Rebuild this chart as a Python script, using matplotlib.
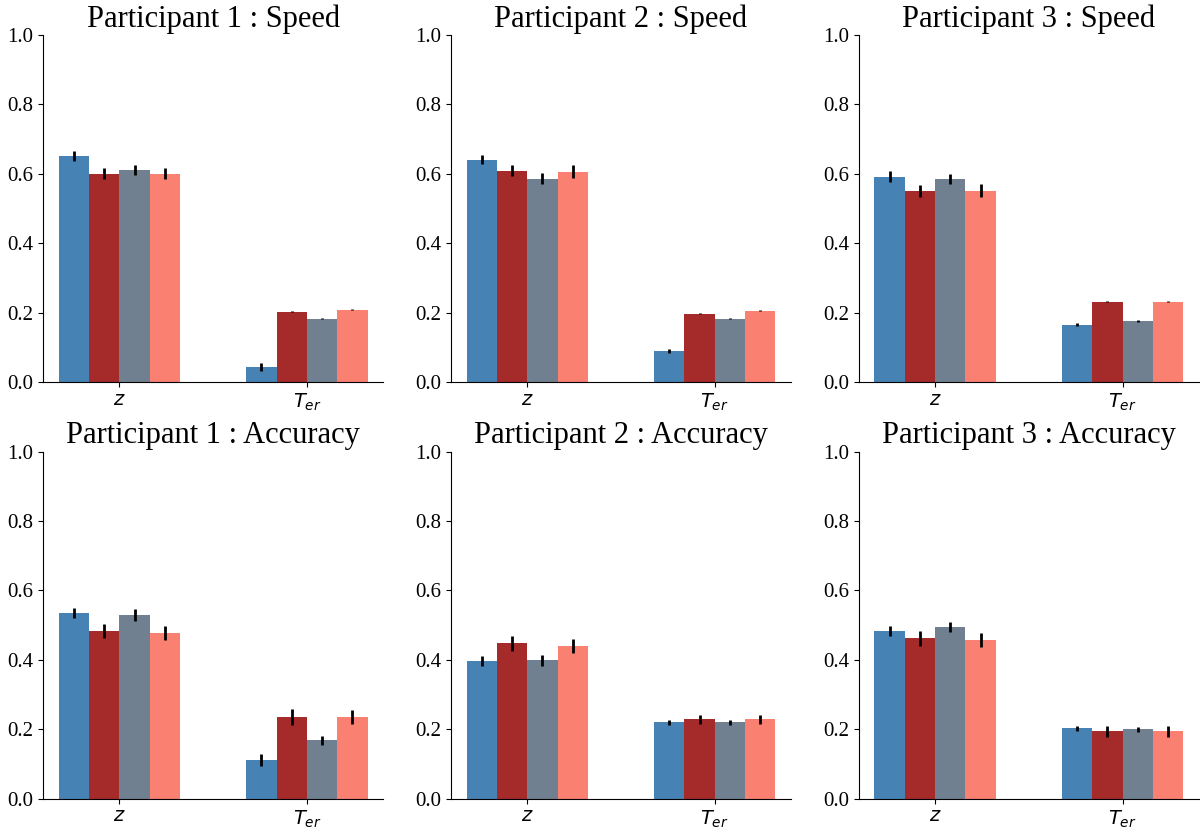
import matplotlib
matplotlib.use("Agg")
import matplotlib.pyplot as plt
import numpy as np

plt.rcParams['font.family'] = ['Liberation Serif', 'DejaVu Serif']
plt.rcParams['mathtext.fontset'] = 'dejavusans'

params = [r'$z$', r'$T_{er}$']
colors = ['steelblue', 'brown', 'slategray', 'salmon']
titles = ['Participant 1 : Speed', 'Participant 2 : Speed', 'Participant 3 : Speed',
          'Participant 1 : Accuracy', 'Participant 2 : Accuracy', 'Participant 3 : Accuracy']

# means[panel][series] = [z, T_er]
means = [
    [[0.652, 0.044], [0.600, 0.203], [0.612, 0.183], [0.600, 0.209]],
    [[0.641, 0.090], [0.609, 0.197], [0.586, 0.183], [0.606, 0.206]],
    [[0.592, 0.165], [0.551, 0.232], [0.586, 0.177], [0.551, 0.232]],
    [[0.535, 0.111], [0.483, 0.235], [0.529, 0.168], [0.477, 0.235]],
    [[0.396, 0.220], [0.448, 0.229], [0.399, 0.220], [0.439, 0.229]],
    [[0.483, 0.203], [0.462, 0.194], [0.494, 0.200], [0.457, 0.194]],
]
errors = [
    [[0.014, 0.012], [0.016, 0.002], [0.014, 0.002], [0.016, 0.002]],
    [[0.014, 0.006], [0.016, 0.002], [0.015, 0.002], [0.018, 0.002]],
    [[0.015, 0.004], [0.018, 0.002], [0.014, 0.003], [0.019, 0.002]],
    [[0.015, 0.018], [0.021, 0.022], [0.017, 0.013], [0.021, 0.021]],
    [[0.015, 0.008], [0.022, 0.013], [0.016, 0.008], [0.020, 0.013]],
    [[0.014, 0.007], [0.021, 0.015], [0.015, 0.007], [0.020, 0.015]],
]

width = 0.162
x = np.arange(len(params))

fig, axes = plt.subplots(2, 3, figsize=(12, 8.32), dpi=100)
for k, ax in enumerate(axes.ravel()):
    for i in range(4):
        ax.bar(x + (i - 1.5) * width, means[k][i], width, yerr=errors[k][i],
               color=colors[i], ecolor='black', error_kw=dict(elinewidth=2, capsize=0))
    ax.set_ylim(0, 1.0)
    ax.set_xticks(x)
    ax.set_xticklabels(params, fontsize=14)
    ax.tick_params(axis='y', labelsize=15)
    ax.set_title(titles[k], fontsize=22)
    ax.spines['top'].set_visible(False)
    ax.spines['right'].set_visible(False)

plt.subplots_adjust(left=0.036, right=0.999, top=0.958, bottom=0.04, wspace=0.2, hspace=0.2)
plt.savefig('out.png')
